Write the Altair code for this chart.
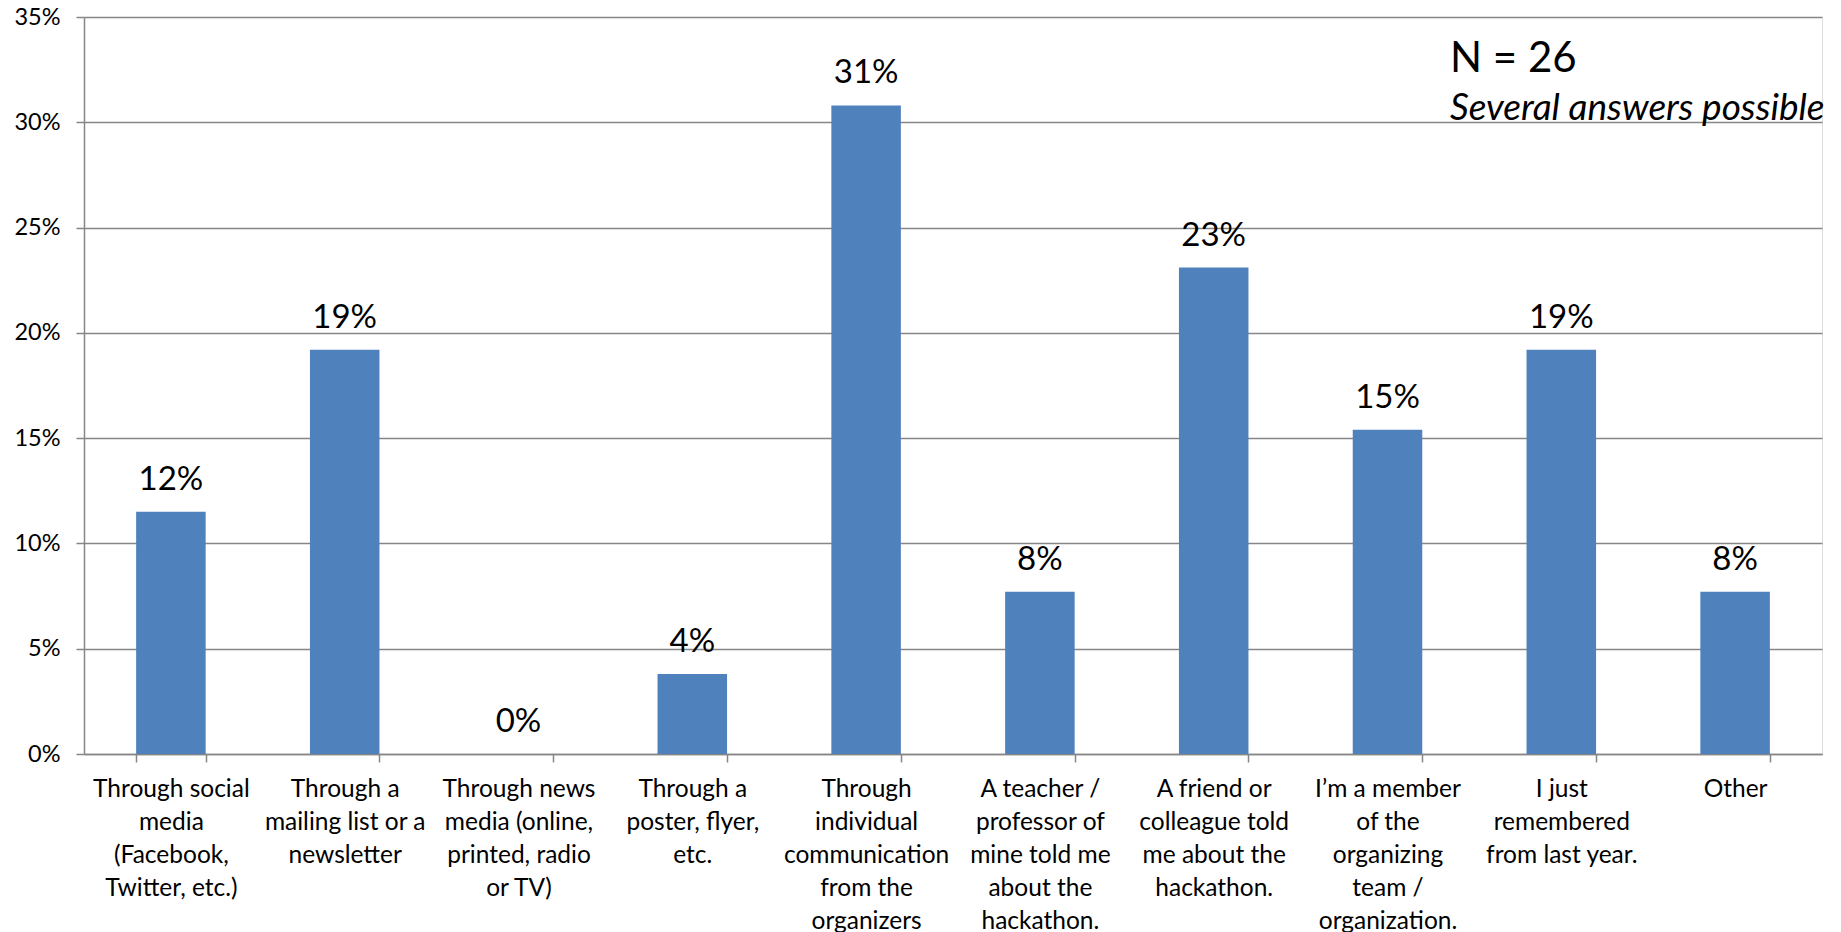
import altair as alt
import pandas as pd

label_lines = [
    ["Through social", "media", "(Facebook,", "Twitter, etc.)"],
    ["Through a", "mailing list or a", "newsletter"],
    ["Through news", "media (online,", "printed, radio", "or TV)"],
    ["Through a", "poster, flyer,", "etc."],
    ["Through", "individual", "communication", "from the", "organizers"],
    ["A teacher /", "professor of", "mine told me", "about the", "hackathon."],
    ["A friend or", "colleague told", "me about the", "hackathon."],
    ["I\u2019m a member", "of the", "organizing", "team /", "organization."],
    ["I just", "remembered", "from last year."],
    ["Other"],
]
shares = [0.115, 0.192, 0.0, 0.038, 0.308, 0.077, 0.231, 0.154, 0.192, 0.077]
y_ticks = [0, 0.05, 0.10, 0.15, 0.20, 0.25, 0.30, 0.35]
note_n = "N = 26"
note_several = "Several answers possible"

categories = ["\n".join(l) for l in label_lines]
df = pd.DataFrame({"cat": categories, "share": shares})

FONT = "Lato"
GRID = "#868686"

x_enc = alt.X(
    "cat:N",
    sort=categories,
    scale=alt.Scale(paddingInner=0.6, paddingOuter=0.3),
    axis=alt.Axis(
        title=None,
        labelAngle=0,
        labelExpr="split(datum.label, '\\n')",
        labelFont=FONT,
        labelFontSize=24.5,
        labelLineHeight=33,
        labelColor="#000000",
        labelPadding=15,
        labelLimit=300,
        labelBaseline="top",
        tickBand="extent",
        tickSize=8,
        tickColor=GRID,
        tickWidth=1.5,
        domainColor=GRID,
        domainWidth=1.5,
        grid=False,
    ),
)
y_enc = alt.Y(
    "share:Q",
    scale=alt.Scale(domain=[0, 0.35], nice=False),
    axis=alt.Axis(
        title=None,
        values=y_ticks,
        format=".0%",
        labelFont=FONT,
        labelFontSize=23.5,
        labelColor="#000000",
        labelPadding=16,
        tickSize=8,
        tickColor=GRID,
        tickWidth=1.5,
        domainColor=GRID,
        domainWidth=1.5,
        grid=True,
        gridColor=GRID,
        gridWidth=1.5,
    ),
)

base = alt.Chart(df)
bars = base.mark_bar(color="#4F81BD").encode(x=x_enc, y=y_enc)
labels = base.mark_text(
    font=FONT, fontSize=33, baseline="alphabetic", dy=-22, color="#000000"
).encode(
    x=alt.X("cat:N", sort=categories),
    y=alt.Y("share:Q"),
    text=alt.Text("share:Q", format=".0%"),
)

n_text = alt.Chart(pd.DataFrame({"t": [note_n]})).mark_text(
    font=FONT, fontSize=42, align="left", baseline="alphabetic", color="#000000"
).encode(text="t:N", x=alt.value(1366), y=alt.value(55))

sev_text = alt.Chart(pd.DataFrame({"t": [note_several]})).mark_text(
    font=FONT, fontSize=37, fontStyle="italic", align="left",
    baseline="alphabetic", color="#000000"
).encode(text="t:N", x=alt.value(1366), y=alt.value(103))

chart = alt.layer(bars, labels, n_text, sev_text).properties(
    width=1738,
    height=737,
    padding={"left": 84, "top": 17, "right": 19, "bottom": 178},
    autosize=alt.AutoSizeParams(type="none"),
).configure_view(stroke=None).configure(background="#ffffff")

chart.save("out.html", embed_options={"renderer": "svg", "actions": False})
